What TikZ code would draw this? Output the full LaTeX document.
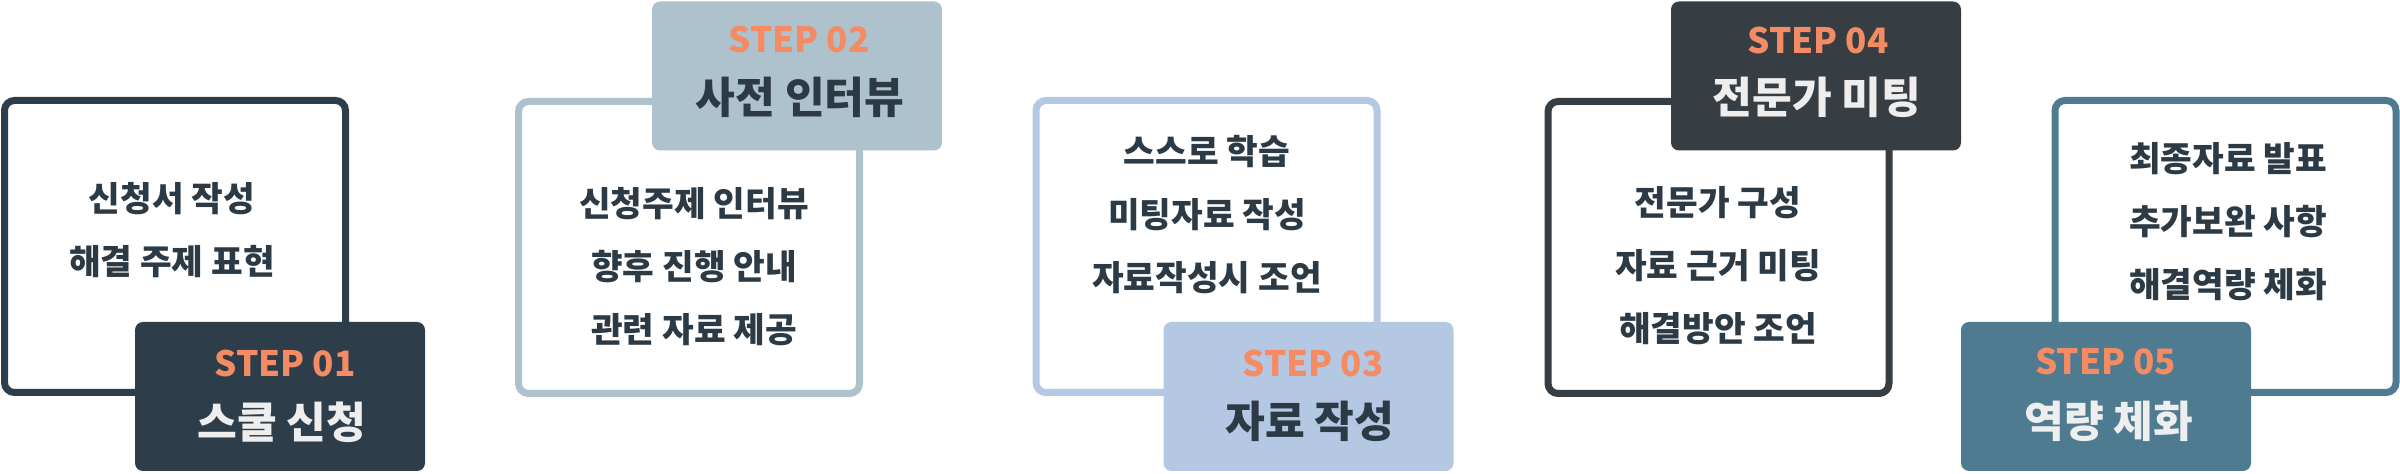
\documentclass[tikz,border=0pt]{standalone}
\usepackage{fontspec}
\setmainfont{Noto Sans CJK KR}
\definecolor{txt}{HTML}{2C3A46}
\definecolor{orng}{HTML}{F58B63}
\definecolor{lite}{HTML}{EEEEEE}
\definecolor{cA}{HTML}{2D3D49}
\definecolor{cB}{HTML}{AEC2CE}
\definecolor{cC}{HTML}{B4C8E3}
\definecolor{cD}{HTML}{363E44}
\definecolor{cE}{HTML}{4F7B91}
\begin{document}
\begin{tikzpicture}[x=0.5pt,y=-0.5pt,
  obox/.style={draw=#1, line width=3.5pt, rounded corners=5pt, minimum width=170.5pt, minimum height=146pt, inner sep=0pt, fill=white},
  sbox/.style={fill=#1, rounded corners=4pt, minimum width=145pt, minimum height=74.5pt, inner sep=0pt},
  btext/.style={align=center, font=\fontsize{17.2}{31.5}\selectfont\bfseries, text=txt, inner sep=0pt},
  snum/.style={font=\fontsize{17.5}{20}\selectfont\bfseries, text=orng, inner sep=0pt},
  stitle/.style={font=\fontsize{21.6}{24}\selectfont\bfseries, text=#1, inner sep=0pt},
]
\useasboundingbox (0,0) rectangle (2400,474);

% STEP 01
\node[obox=cA] (b1) at (175,246.5) {};
\node[btext] (t1) at (172,230.5) {신청서 작성\\해결 주제 표현};
\node[sbox=cA] (s1) at (280,396.5) {};
\node[snum] (n1) at (285,363) {STEP 01};
\node[stitle=lite] (h1) at (282,422) {스쿨 신청};

% STEP 02
\node[obox=cB] (b2) at (689,247.5) {};
\node[btext] (t2) at (694,267) {신청주제 인터뷰\\향후 진행 안내\\관련 자료 제공};
\node[sbox=cB] (s2) at (797,76) {};
\node[snum] (n2) at (799,39.5) {STEP 02};
\node[stitle=txt] (h2) at (800,97) {사전 인터뷰};

% STEP 03
\node[obox=cC] (b3) at (1206.5,246.5) {};
\node[btext] (t3) at (1207,215) {스스로 학습\\미팅자료 작성\\자료작성시 조언};
\node[sbox=cC] (s3) at (1308.5,396.5) {};
\node[snum] (n3) at (1313,363) {STEP 03};
\node[stitle=txt] (h3) at (1310,421) {자료 작성};

% STEP 04
\node[obox=cD] (b4) at (1718.5,247.5) {};
\node[btext] (t4) at (1718,266) {전문가 구성\\자료 근거 미팅\\해결방안 조언};
\node[sbox=cD] (s4) at (1816,76) {};
\node[snum] (n4) at (1818,40) {STEP 04};
\node[stitle=lite] (h4) at (1817,97) {전문가 미팅};

% STEP 05
\node[obox=cE] (b5) at (2225.5,246.5) {};
\node[btext] (t5) at (2228,222) {최종자료 발표\\추가보완 사항\\해결역량 체화};
\node[sbox=cE] (s5) at (2106,396.5) {};
\node[snum] (n5) at (2105.5,361) {STEP 05};
\node[stitle=lite] (h5) at (2109,421) {역량 체화};
\end{tikzpicture}
\end{document}
